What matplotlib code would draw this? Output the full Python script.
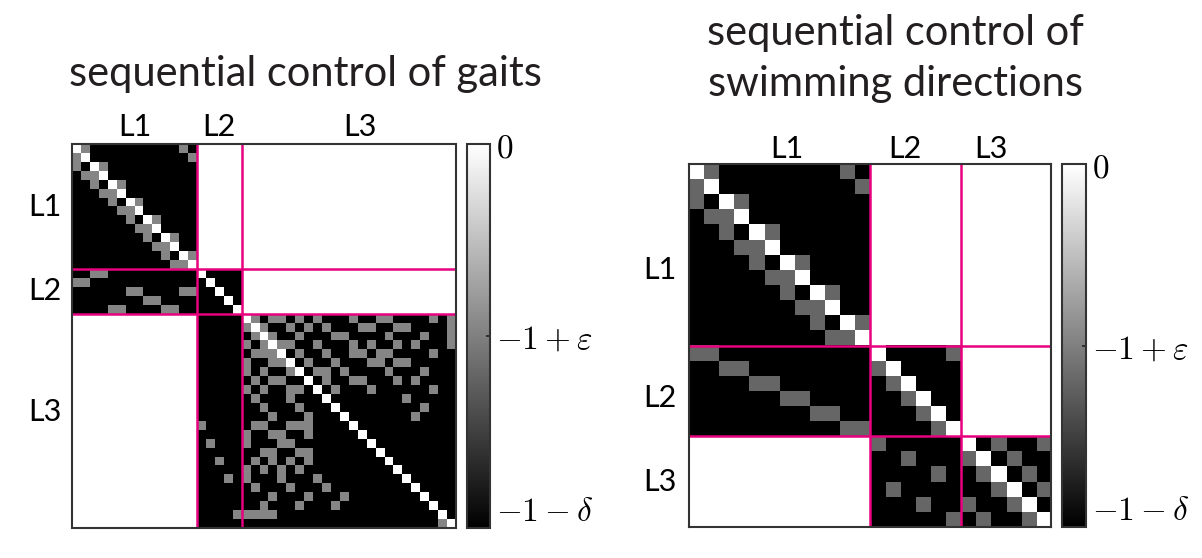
import numpy as np
import matplotlib.pyplot as plt
from matplotlib.transforms import blended_transform_factory

plt.rcParams['mathtext.fontset'] = 'cm'

W, H = 1202, 558

# value levels (colour scale goes from -1-delta to 0)
v_white = 0.0
v_black = -1.5
v_tick = -0.75          # position of the "-1 + eps" tick
v_gray_left = -0.72
v_gray_right = -0.9

# ---------------- left matrix: sequential control of gaits ----------------
left_sizes = [14, 5, 24]
left_labels = ['L1', 'L2', 'L3']
# blocks with black background (row block, col block)
left_black = [(0, 0), (1, 1), (2, 2), (1, 0), (2, 1)]

# gray entries, per block: {row: [cols]} in block-local indices
left_L1_L1 = {0: [12, 1], 1: [13, 0], 2: [0, 3], 3: [1, 2], 4: [2, 5], 5: [3, 4],
              6: [4, 7], 7: [5, 6], 8: [6, 9], 9: [7, 8], 10: [8, 11], 11: [9, 10],
              12: [10, 13], 13: [11, 12]}
left_L2_L1 = {0: [2, 3], 1: [0, 1], 2: [6, 7, 12, 13], 3: [8, 9], 4: [4, 5, 10, 11]}
left_L3_L2 = {12: [0], 14: [1], 16: [2], 18: [3], 22: [4]}
left_L3_L3 = {
    0: [1, 3, 4, 6, 8, 12, 15, 16, 21, 23],
    1: [0, 2, 5, 7, 9, 13, 14, 17, 18, 23],
    2: [1, 3, 6, 10, 11, 16, 20, 23],
    3: [0, 2, 4, 5, 8, 12, 14, 17, 19, 23],
    4: [1, 2, 3, 6, 9, 12, 13, 15, 16, 21],
    5: [0, 3, 4, 7, 10, 14, 15, 17, 18],
    6: [0, 2, 5, 8, 9, 11, 16, 20],
    7: [1, 3, 4, 9, 12, 13, 17, 19],
    8: [0, 2, 5, 6, 10, 14, 21],
    9: [1, 5, 18],
    10: [2, 6, 20],
    11: [3, 7, 19],
    12: [1, 2, 5, 6, 7],
    13: [0, 3, 4, 7],
    14: [0, 4, 5],
    15: [2, 3, 6, 7],
    16: [1, 3, 5, 7],
    17: [0, 2, 4, 6],
    18: [0, 4, 8],
    19: [1, 5, 9],
    20: [3, 7, 11],
    21: [2, 6, 10],
    22: [0, 1, 2, 3],
    23: [22],
}
left_gray = {(0, 0): left_L1_L1, (1, 0): left_L2_L1, (2, 1): left_L3_L2, (2, 2): left_L3_L3}
# label nudges in cells (columns, rows)
left_col_shift = [0, 0, 1.2]
left_row_shift = [0, 0, -1.0]

# ---------------- right matrix: swimming directions ----------------
right_sizes = [12, 6, 6]
right_labels = ['L1', 'L2', 'L3']
right_black = [(0, 0), (1, 1), (2, 2), (1, 0), (2, 1)]
right_L1_L1 = {0: [10, 1], 1: [11, 0], 2: [0, 3], 3: [1, 2], 4: [2, 5], 5: [3, 4],
               6: [4, 7], 7: [5, 6], 8: [6, 9], 9: [7, 8], 10: [8, 11], 11: [9, 10]}
right_L2_L1 = {0: [0, 1], 1: [2, 3], 2: [4, 5], 3: [6, 7], 4: [8, 9], 5: [10, 11]}
right_L2_L2 = {0: [5], 1: [0], 2: [1], 3: [2], 4: [3], 5: [4]}
right_L3_L2 = {0: [0], 1: [2], 2: [4], 3: [1], 4: [3], 5: [5]}
right_L3_L3 = {0: [2, 5], 1: [0, 3], 2: [1, 4], 3: [2, 5], 4: [0, 3], 5: [1, 4]}
right_gray = {(0, 0): right_L1_L1, (1, 0): right_L2_L1, (1, 1): right_L2_L2,
              (2, 1): right_L3_L2, (2, 2): right_L3_L3}
right_col_shift = [0.5, -0.7, -1.0]
right_row_shift = [1.0, 0.5, 0]

cbar_ticks = [v_black, v_tick, v_white]
cbar_ticklabels = [r'$-1-\delta$', r'$-1+\varepsilon$', r'$0$']


def build_matrix(sizes, black_blocks, gray_blocks, gray_val):
    n = sum(sizes)
    starts = np.concatenate([[0], np.cumsum(sizes)])
    M = np.full((n, n), v_white)
    for bi, bj in black_blocks:
        M[starts[bi]:starts[bi + 1], starts[bj]:starts[bj + 1]] = v_black
    for (bi, bj), entries in gray_blocks.items():
        for r, cols in entries.items():
            for c in cols:
                M[starts[bi] + r, starts[bj] + c] = gray_val
    for k in range(len(sizes)):
        for d in range(starts[k], starts[k + 1]):
            M[d, d] = v_white
    return M, starts


def box(x0, y0, x1, y1):
    return [x0 / W, 1 - y1 / H, (x1 - x0) / W, (y1 - y0) / H]


def draw_panel(fig, M, starts, labels, mat_box, cbar_box, col_lab_dy, row_lab_dx,
               col_shift, row_shift):
    ax = fig.add_axes(box(*mat_box))
    im = ax.imshow(M, cmap='gray', vmin=v_black, vmax=v_white,
                   interpolation='nearest', aspect='auto')
    for b in starts[1:-1]:
        ax.axhline(b - 0.5, color='#e6007e', lw=1.8)
        ax.axvline(b - 0.5, color='#e6007e', lw=1.8)
    ax.set_xticks([])
    ax.set_yticks([])
    for s in ax.spines.values():
        s.set_color('#333333')
        s.set_linewidth(1.5)

    size = mat_box[2] - mat_box[0]
    centers = (starts[:-1] + starts[1:]) / 2 - 0.5
    tx = blended_transform_factory(ax.transData, ax.transAxes)
    ty = blended_transform_factory(ax.transAxes, ax.transData)
    for lab, c, dc, dr in zip(labels, centers, col_shift, row_shift):
        ax.text(c + dc, 1 + col_lab_dy / size, lab, transform=tx, ha='center', va='center',
                fontsize=22, family='Lato', clip_on=False)
        ax.text(-row_lab_dx / size, c + dr, lab, transform=ty, ha='center', va='center',
                fontsize=22, family='Lato', clip_on=False)

    cax = fig.add_axes(box(*cbar_box))
    cb = fig.colorbar(im, cax=cax, ticks=cbar_ticks)
    cb.ax.set_yticklabels(cbar_ticklabels, fontsize=24)
    cb.ax.tick_params(direction='in', length=3, width=1.2, color='#222222', pad=4)
    cb.outline.set_edgecolor('#333333')
    cb.outline.set_linewidth(1.5)
    tl = cb.ax.get_yticklabels()
    tl[0].set_va('bottom')
    return ax


fig = plt.figure(figsize=(W / 100, H / 100), dpi=100)

ML, sL = build_matrix(left_sizes, left_black, left_gray, v_gray_left)
MR, sR = build_matrix(right_sizes, right_black, right_gray, v_gray_right)

draw_panel(fig, ML, sL, left_labels, (72, 144, 456, 528), (467, 144, 490, 528), 17, 27,
           left_col_shift, left_row_shift)
draw_panel(fig, MR, sR, right_labels, (689, 164, 1051, 527), (1062, 164, 1086, 527), 15, 29,
           right_col_shift, right_row_shift)

fig.text(305 / W, 1 - 86 / H, 'sequential control of gaits', ha='center', va='baseline',
         fontsize=30, family='Lato', color='#231f20')
fig.text(895 / W, 1 - 45 / H, 'sequential control of', ha='center', va='baseline',
         fontsize=30, family='Lato', color='#231f20')
fig.text(895 / W, 1 - 96 / H, 'swimming directions', ha='center', va='baseline',
         fontsize=30, family='Lato', color='#231f20')

fig.savefig('out.png', dpi=100)
